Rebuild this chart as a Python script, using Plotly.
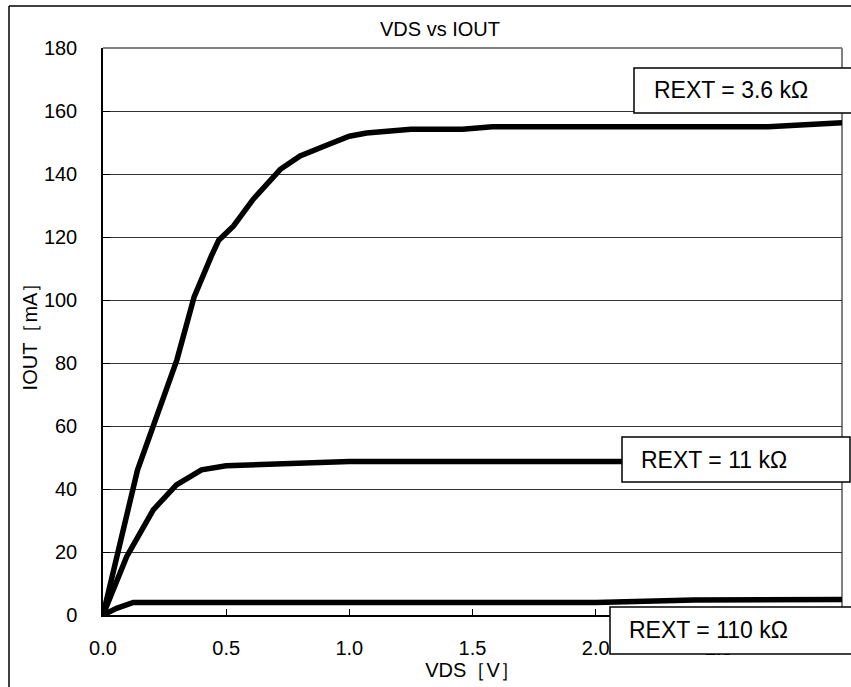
import plotly.graph_objects as go

# ---- data ----
vds_36k = [0, 0.14, 0.30, 0.37, 0.44, 0.47, 0.53, 0.61, 0.72, 0.80, 0.92, 1.00, 1.07, 1.25, 1.46, 1.58, 2.70, 3.00]
iout_36k = [0, 46, 81, 101, 114, 119, 123.5, 132, 141.5, 145.7, 149.5, 152, 153, 154.2, 154.2, 155, 155, 156.3]

vds_11k = [0, 0.096, 0.204, 0.298, 0.40, 0.50, 1.00, 3.00]
iout_11k = [0, 18.5, 33.4, 41.3, 46.1, 47.4, 48.7, 48.7]

vds_110k = [0, 0.055, 0.123, 2.00, 2.40, 3.00]
iout_110k = [0, 2.1, 4.0, 4.0, 4.8, 4.9]

labels = ["REXT = 3.6 kΩ", "REXT = 11 kΩ", "REXT = 110 kΩ"]
x_ticks = [0, 0.5, 1.0, 1.5, 2.0, 2.5, 3.0]
y_ticks = [0, 20, 40, 60, 80, 100, 120, 140, 160, 180]

title_text = "VDS vs IOUT"
x_title = "VDS［V］"
y_title = "IOUT［mA］"

FONT = "Liberation Sans, Arial, sans-serif"

fig = go.Figure()
for xs, ys in [(vds_36k, iout_36k), (vds_11k, iout_11k), (vds_110k, iout_110k)]:
    fig.add_trace(go.Scatter(x=xs, y=ys, mode="lines",
                             line=dict(color="black", width=5.5),
                             showlegend=False, hoverinfo="skip"))

# plot geometry (pixels)
L, R, T, B = 103, 842, 48, 615
W, H = 851, 687
def px(x):
    return (x - L) / (R - L)
def py(y):
    return (B - y) / (B - T)

shapes = []
# outer chart border (top and left visible)
shapes.append(dict(type="line", xref="paper", yref="paper", x0=px(9), x1=px(860), y0=py(6), y1=py(6),
                   line=dict(color="black", width=1.5)))
shapes.append(dict(type="line", xref="paper", yref="paper", x0=px(9), x1=px(9), y0=py(6), y1=py(700),
                   line=dict(color="black", width=1.5)))
# plot area top/right border (gray)
shapes.append(dict(type="line", xref="paper", yref="paper", x0=0, x1=1, y0=1, y1=1,
                   line=dict(color="#808080", width=2), layer="below"))
shapes.append(dict(type="line", xref="paper", yref="paper", x0=1, x1=1, y0=0, y1=1,
                   line=dict(color="#808080", width=2), layer="below"))

# label boxes (pixel coords) and text anchor
boxes = [
    ((634, 68, 880, 113), (652, 90.5)),
    ((622, 437, 850, 482), (639, 459.5)),
    ((610, 607, 880, 654), (627, 630)),
]
annotations = []
for (x0, y0, x1, y1), (tx, ty) in boxes:
    shapes.append(dict(type="rect", xref="paper", yref="paper",
                       x0=px(x0), x1=px(x1), y0=py(y1), y1=py(y0),
                       fillcolor="white", line=dict(color="black", width=1.5), layer="above"))
for lab, ((x0, y0, x1, y1), (tx, ty)) in zip(labels, boxes):
    annotations.append(dict(xref="paper", yref="paper", x=px(tx), y=py(ty),
                            xanchor="left", yanchor="middle", text=lab, showarrow=False,
                            font=dict(family=FONT, size=23, color="black")))

annotations.append(dict(xref="paper", yref="paper", x=px(440), y=py(29), text=title_text,
                        showarrow=False, xanchor="center", yanchor="middle",
                        font=dict(family=FONT, size=20, color="black")))

fig.update_layout(
    width=W, height=H,
    margin=dict(l=L, r=W - R, t=T, b=H - B, pad=0),
    paper_bgcolor="white", plot_bgcolor="white",
    shapes=shapes, annotations=annotations,
    font=dict(family=FONT, size=20, color="black"),
)
fig.update_xaxes(range=[0, 3], tickvals=x_ticks, ticktext=[f"{v:.1f}" for v in x_ticks],
                 showgrid=False, zeroline=False, showline=True, linecolor="black", linewidth=1.5,
                 ticks="inside", ticklen=6, tickcolor="black", tickwidth=1,
                 ticklabelstandoff=14,
                 title=dict(text=x_title, standoff=0, font=dict(family=FONT, size=20)))
fig.update_yaxes(range=[0, 180], tickvals=y_ticks,
                 showgrid=True, gridcolor="#333333", gridwidth=1, zeroline=False,
                 showline=True, linecolor="black", linewidth=1.5,
                 ticks="inside", ticklen=7, tickcolor="black", tickwidth=1,
                 ticklabelstandoff=20,
                 title=dict(text=y_title, standoff=1, font=dict(family=FONT, size=20)))

fig.write_html("out.html", config={"displayModeBar": False},
               post_script="document.body.style.margin='0';")
